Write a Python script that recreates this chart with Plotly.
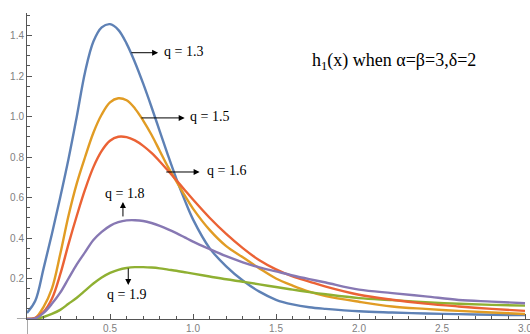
import plotly.graph_objects as go

# common x grid
x_vals = [0, 0.05, 0.1, 0.15, 0.2, 0.25, 0.3, 0.35, 0.4, 0.45, 0.5, 0.55, 0.6, 0.65, 0.7,
          0.75, 0.8, 0.85, 0.9, 0.95, 1.0, 1.1, 1.2, 1.3, 1.4, 1.5, 1.6, 1.7, 1.8, 2.0,
          2.2, 2.4, 2.6, 2.8, 3.0]

h_q13 = [0.03, 0.09, 0.25, 0.42, 0.60, 0.79, 1.00, 1.22, 1.37, 1.44, 1.456, 1.428, 1.36, 1.268, 1.162,
         1.047, 0.927, 0.807, 0.692, 0.587, 0.492, 0.35, 0.26, 0.19, 0.135, 0.095, 0.072, 0.058, 0.05, 0.038,
         0.032, 0.027, 0.024, 0.021, 0.019]
h_q15 = [0.0, 0.005, 0.06, 0.15, 0.32, 0.51, 0.67, 0.80, 0.92, 1.01, 1.07, 1.09, 1.08, 1.04, 0.98,
         0.91, 0.83, 0.75, 0.68, 0.61, 0.545, 0.44, 0.36, 0.305, 0.25, 0.20, 0.165, 0.135, 0.113, 0.085,
         0.062, 0.05, 0.04, 0.032, 0.025]
h_q16 = [0.0, 0.005, 0.035, 0.10, 0.22, 0.37, 0.51, 0.64, 0.75, 0.83, 0.88, 0.90, 0.898, 0.882, 0.855,
         0.82, 0.778, 0.732, 0.685, 0.637, 0.59, 0.50, 0.42, 0.35, 0.29, 0.245, 0.21, 0.185, 0.16, 0.12,
         0.095, 0.076, 0.062, 0.05, 0.04]
h_q18 = [0.0, 0.003, 0.03, 0.075, 0.13, 0.20, 0.27, 0.33, 0.39, 0.43, 0.46, 0.478, 0.487, 0.488, 0.484,
         0.474, 0.46, 0.443, 0.424, 0.403, 0.382, 0.345, 0.31, 0.28, 0.255, 0.235, 0.215, 0.197, 0.18, 0.145,
         0.128, 0.112, 0.094, 0.086, 0.078]
h_q19 = [0.0, 0.002, 0.01, 0.025, 0.045, 0.075, 0.105, 0.14, 0.175, 0.205, 0.228, 0.243, 0.252, 0.256, 0.256,
         0.254, 0.25, 0.244, 0.238, 0.231, 0.224, 0.21, 0.196, 0.184, 0.171, 0.158, 0.145, 0.133, 0.122, 0.103,
         0.093, 0.083, 0.075, 0.07, 0.066]

y_ticks = [0.2, 0.4, 0.6, 0.8, 1.0, 1.2, 1.4]
y_ticktext = ["0.2", "0.4", "0.6", "0.8", "1.0", "1.2", "1.4"]
x_ticks = [0.5, 1.0, 1.5, 2.0, 2.5, 3.0]
x_ticktext = ["0.5", "1.0", "1.5", "2.0", "2.5", "3.0"]

# Mathematica plotting order: 1.3, 1.5, 1.9, 1.6, 1.8
series = [
    ("q = 1.3", h_q13, "#5E81B5"),
    ("q = 1.5", h_q15, "#E19C24"),
    ("q = 1.9", h_q19, "#8FB032"),
    ("q = 1.6", h_q16, "#EB6235"),
    ("q = 1.8", h_q18, "#8778B3"),
]

fig = go.Figure()
for name, ys, col in series:
    fig.add_trace(go.Scatter(x=x_vals, y=ys, mode="lines", name=name,
                             line=dict(color=col, width=2.4, shape="spline", smoothing=1.0),
                             showlegend=False, hoverinfo="skip"))

W, H = 530, 334
ml, mr, mt, mb = 27, 0, 13, 15
px_per_x = 166.0
px_per_y = 202.5
xr = [0, (W - ml - mr) / px_per_x]
yr = [0, (H - mt - mb) / px_per_y]

axis_col = "#555555"
tick_font = dict(family="Liberation Sans, Arial, sans-serif", size=10, color="#808080")
serif = "Liberation Serif, Times New Roman, serif"

fig.update_layout(
    width=W, height=H,
    margin=dict(l=ml, r=mr, t=mt, b=mb, pad=0),
    paper_bgcolor="white", plot_bgcolor="white",
    xaxis=dict(range=xr, showgrid=False, zeroline=False, showline=True, linecolor=axis_col, linewidth=1,
               ticks="inside", ticklen=5, tickwidth=1, tickcolor=axis_col,
               tickvals=x_ticks, ticktext=x_ticktext, tickfont=tick_font, automargin=False,
               ticklabeloverflow="allow",
               minor=dict(dtick=0.1, tick0=0, ticks="inside", ticklen=3, tickcolor=axis_col, showgrid=False)),
    yaxis=dict(range=yr, showgrid=False, zeroline=False, showline=True, linecolor=axis_col, linewidth=1,
               ticks="inside", ticklen=5, tickwidth=1, tickcolor=axis_col,
               tickvals=y_ticks, ticktext=y_ticktext, tickfont=tick_font, automargin=False,
               ticklabeloverflow="allow",
               minor=dict(dtick=0.05, tick0=0, ticks="inside", ticklen=3, tickcolor=axis_col, showgrid=False)),
)

# axis extensions beyond the origin (Mathematica style crossing axes)
fig.add_shape(type="line", xref="x", yref="paper", x0=0, x1=0, y0=0, y1=-0.06,
              line=dict(color=axis_col, width=1))
fig.add_shape(type="line", xref="paper", yref="y", x0=-0.02, x1=0, y0=0, y1=0,
              line=dict(color=axis_col, width=1))

lab_font = dict(family=serif, size=14, color="black")

# horizontal arrows (tail on curve -> head at label)
h_arrows = [
    (0.62, 0.79, 1.315, "q = 1.3", 0.815),
    (0.68, 0.95, 0.993, "q = 1.5", 0.97),
    (0.83, 1.04, 0.726, "q = 1.6", 1.075),
]
for tail, tip, yy, txt, tx in h_arrows:
    fig.add_annotation(x=tip, y=yy, ax=tail, ay=yy, axref="x", ayref="y", text="",
                       showarrow=True, arrowhead=2, arrowsize=1.2, arrowwidth=1, arrowcolor="black")
    fig.add_annotation(x=tx, y=yy + 0.005, text=txt, showarrow=False, xanchor="left", yanchor="middle",
                       font=lab_font)

# vertical arrows
fig.add_annotation(x=0.578, y=0.578, ax=0.578, ay=0.499, axref="x", ayref="y", text="",
                   showarrow=True, arrowhead=2, arrowsize=1.2, arrowwidth=1, arrowcolor="black")
fig.add_annotation(x=0.59, y=0.62, text="q = 1.8", showarrow=False, xanchor="center", yanchor="middle",
                   font=lab_font)
fig.add_annotation(x=0.61, y=0.168, ax=0.61, ay=0.257, axref="x", ayref="y", text="",
                   showarrow=True, arrowhead=2, arrowsize=1.2, arrowwidth=1, arrowcolor="black")
fig.add_annotation(x=0.60, y=0.119, text="q = 1.9", showarrow=False, xanchor="center", yanchor="middle",
                   font=lab_font)

# title text inside plot
fig.add_annotation(x=1.705, y=1.27, text="h<sub>1</sub>(x) when α=β=3,δ=2", showarrow=False,
                   xanchor="left", yanchor="middle", font=dict(family=serif, size=18, color="black"))

# axis label x
fig.add_annotation(x=1.24, xref="x", y=-0.026, yref="paper", text="<b>x</b>", showarrow=False,
                   xanchor="center", yanchor="top", font=dict(family=serif, size=14, color="#222222"))

fig.write_html("out.html")
